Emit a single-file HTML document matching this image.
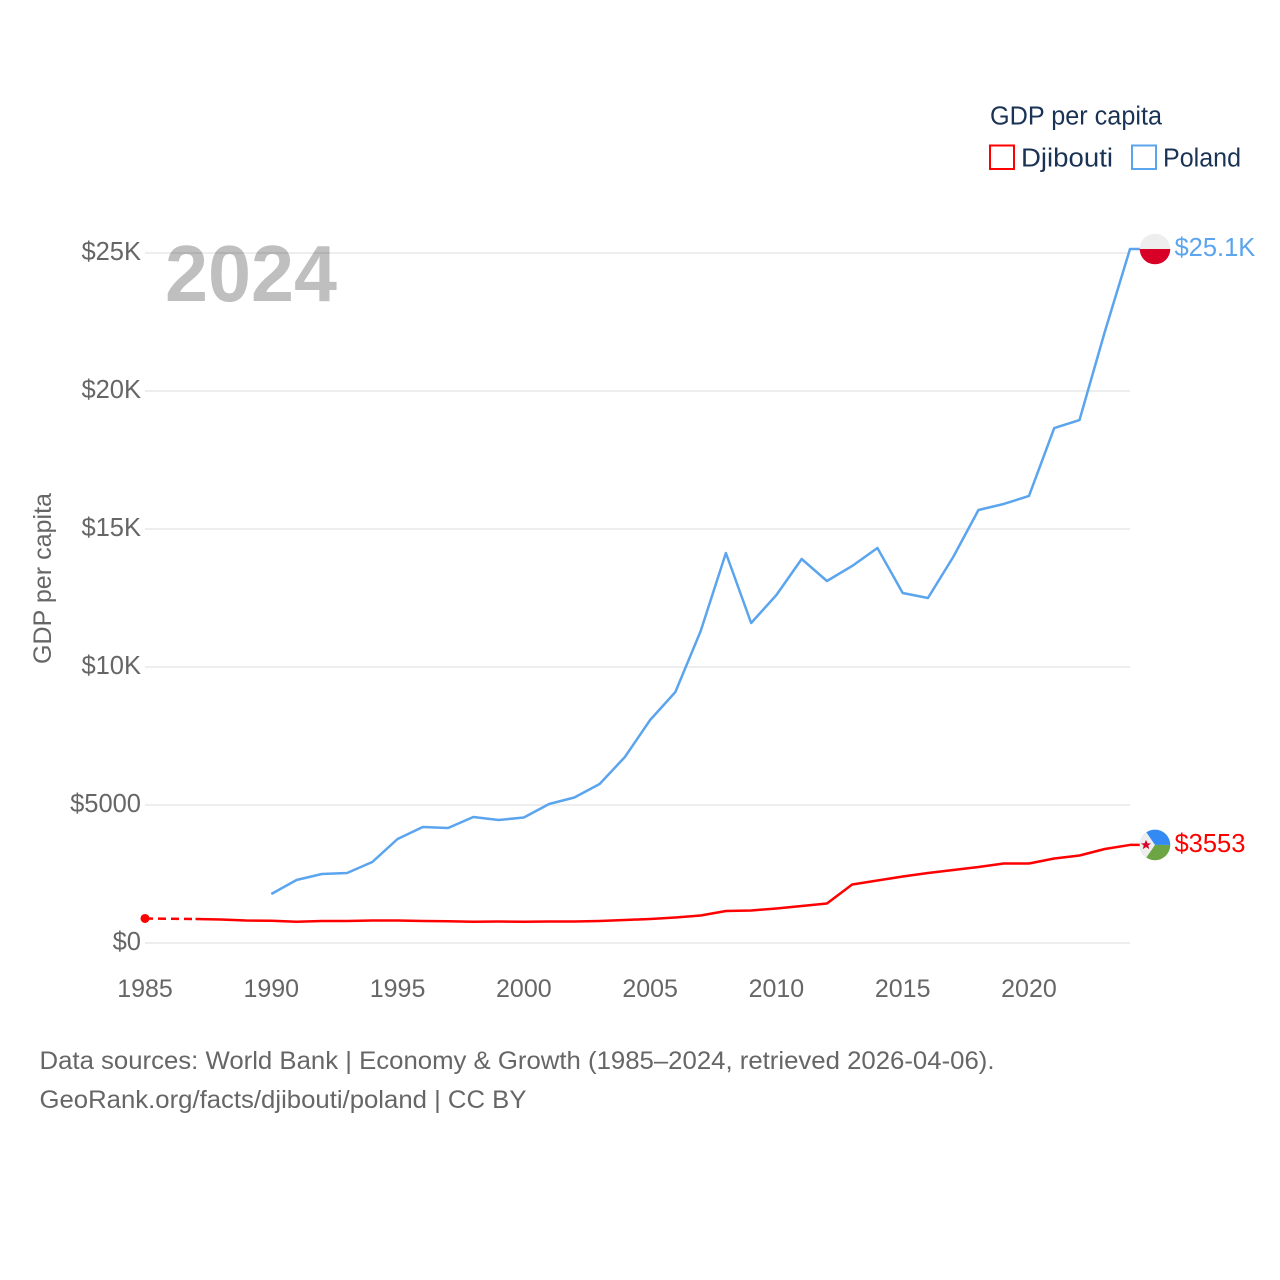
<!DOCTYPE html>
<html lang="en">
<head>
<meta charset="utf-8">
<title>GDP per capita: Djibouti and Poland</title>
<style>
html,body{margin:0;padding:0;background:#fff;width:1280px;height:1280px;overflow:hidden}
svg{display:block;font-family:"Liberation Sans",sans-serif}
</style>
</head>
<body>
<svg id="chart" width="1280" height="1280" viewBox="0 0 1280 1280" xmlns="http://www.w3.org/2000/svg">
  <defs>
    <clipPath id="flag-clip"><circle cx="0" cy="0" r="15.3"></circle></clipPath>
  </defs>
  <g id="grid"></g>
  <g id="yticks"></g>
  <g id="xticks"></g>
  <text transform="translate(51,578.5) rotate(-90)" text-anchor="middle" font-size="25" fill="#666" textLength="171" lengthAdjust="spacingAndGlyphs">GDP per capita</text>
  <text x="165" y="301" font-size="80" font-weight="700" fill="#000" fill-opacity="0.25" textLength="172" lengthAdjust="spacingAndGlyphs">2024</text>
  <g id="series"></g>
  <g>
    <text x="990" y="124.5" font-size="25.5" fill="#1a3355" textLength="172" lengthAdjust="spacingAndGlyphs">GDP per capita</text>
    <rect x="990" y="145.5" width="24" height="23.5" fill="#fff" stroke="#ff0000" stroke-width="2"></rect>
    <text x="1021" y="166.5" font-size="25.5" fill="#1a3355" textLength="92" lengthAdjust="spacingAndGlyphs">Djibouti</text>
    <rect x="1132" y="145.5" width="24" height="23.5" fill="#fff" stroke="#5ba4ee" stroke-width="2"></rect>
    <text x="1163" y="166.5" font-size="25.5" fill="#1a3355" textLength="78" lengthAdjust="spacingAndGlyphs">Poland</text>
  </g>
  <g>
    <text x="39.5" y="1069" font-size="25" fill="#666" textLength="955" lengthAdjust="spacingAndGlyphs">Data sources: World Bank | Economy &amp; Growth (1985–2024, retrieved 2026-04-06).</text>
    <text x="39.5" y="1108" font-size="25" fill="#666" textLength="487" lengthAdjust="spacingAndGlyphs">GeoRank.org/facts/djibouti/poland | CC BY</text>
  </g>
  <g id="flag-poland">
    <g clip-path="url(#flag-clip)">
      <rect x="-16" y="-16" width="32" height="16" fill="#eeeeee"></rect>
      <rect x="-16" y="0" width="32" height="16" fill="#d80027"></rect>
    </g>
  </g>
  <g id="flag-djibouti">
    <g clip-path="url(#flag-clip)">
      <rect x="-16" y="-16" width="32" height="16" fill="#338af3"></rect>
      <rect x="-16" y="0" width="32" height="16" fill="#6da544"></rect>
      <polygon points="-16,-16 -11,-16 0,0 -11,16 -16,16" fill="#eeeeee"></polygon>
      <polygon points="-9,-5 -7.5,-1.6 -4,-1.6 -6.8,0.6 -5.7,4.2 -9,2.1 -12.3,4.2 -11.2,0.6 -14,-1.6 -10.5,-1.6" fill="#d80027"></polygon>
    </g>
  </g>
  <g id="end-labels"></g>
</svg>
<script>
const years = [1985,1986,1987,1988,1989,1990,1991,1992,1993,1994,1995,1996,1997,1998,1999,2000,2001,2002,2003,2004,2005,2006,2007,2008,2009,2010,2011,2012,2013,2014,2015,2016,2017,2018,2019,2020,2021,2022,2023,2024];
const djibouti = [888,null,870,850,815,808,772,797,797,815,815,797,790,772,779,772,779,779,797,833,870,924,996,1159,1178,1250,1340,1431,2120,2264,2409,2536,2645,2754,2880,2880,3062,3170,3406,3553];
const poland = [null,null,null,null,null,1775,2283,2500,2536,2935,3768,4203,4167,4565,4457,4547,5036,5272,5761,6739,8080,9094,11300,14130,11594,12609,13913,13116,13660,14312,12681,12500,13985,15688,15906,16196,18659,18949,22138,25145];
const yTickValues = [0,5000,10000,15000,20000,25000];
const yTickLabels = ["$0","$5000","$10K","$15K","$20K","$25K"];
const xTickValues = [1985,1990,1995,2000,2005,2010,2015,2020];
const NS = "http://www.w3.org/2000/svg";
const xScale = function (year) { return 145 + (year - 1985) * (985 / 39); };
const yScale = function (value) { return 943 - value * 0.0276; };
const make = function (tag, parent) {
  const el = document.createElementNS(NS, tag);
  parent.appendChild(el);
  return el;
};
const gridGroup = document.getElementById("grid");
const yGroup = document.getElementById("yticks");
yTickValues.forEach(function (value, i) {
  const line = make("line", gridGroup);
  
  
  line.setAttribute("x1", 145);
  line.setAttribute("x2", 1130);
  line.setAttribute("y1", yScale(value));
  line.setAttribute("y2", yScale(value));
  line.setAttribute("stroke", "#eeeeee");
  line.setAttribute("stroke-width", 2);
  const label = make("text", yGroup);
  
  
  label.setAttribute("x", 141);
  label.setAttribute("y", yScale(value) + 7);
  label.setAttribute("text-anchor", "end");
  label.setAttribute("font-size", 25.5);
  label.setAttribute("fill", "#666");
  label.textContent = yTickLabels[i];
});
const xGroup = document.getElementById("xticks");
xTickValues.forEach(function (year) {
  const label = make("text", xGroup);
  
  
  label.setAttribute("x", xScale(year));
  label.setAttribute("y", 997);
  label.setAttribute("text-anchor", "middle");
  label.setAttribute("font-size", 25);
  label.setAttribute("fill", "#666");
  label.textContent = year;
});
const seriesGroup = document.getElementById("series");
const drawSeries = function (values, color) {
  const known = [];
  values.forEach(function (value, i) {
    if (value !== null) { known.push({ x: xScale(years[i]), y: yScale(value), year: years[i] }); }
  });
  let solid = "";
  let dashed = "";
  known.forEach(function (p, i) {
    if (i === 0) { solid += "M" + p.x + " " + p.y; return; }
    const prev = known[i - 1];
    if (p.year - prev.year > 1) {
      dashed += "M" + prev.x + " " + prev.y + "L" + p.x + " " + p.y;
      solid += "M" + p.x + " " + p.y;
    } else {
      solid += "L" + p.x + " " + p.y;
    }
  });
  const last = known[known.length - 1];
  solid += "L" + (last.x + 10) + " " + last.y;
  const path = make("path", seriesGroup);
  
  
  path.setAttribute("d", solid);
  path.setAttribute("fill", "none");
  path.setAttribute("stroke", color);
  path.setAttribute("stroke-width", 2.5);
  path.setAttribute("stroke-linejoin", "round");
  if (dashed) {
    const dash = make("path", seriesGroup);
    
    
    dash.setAttribute("d", dashed);
    dash.setAttribute("fill", "none");
    dash.setAttribute("stroke", color);
    dash.setAttribute("stroke-width", 2.5);
    dash.setAttribute("stroke-dasharray", "8 5");
  }
  const first = known[0];
  if (known[1].year - first.year > 1) {
    const dot = make("circle", seriesGroup);
    
    
    dot.setAttribute("cx", first.x);
    dot.setAttribute("cy", first.y);
    dot.setAttribute("r", 4.5);
    dot.setAttribute("fill", color);
  }
  return last;
};
const endLabels = document.getElementById("end-labels");
const placeEnd = function (last, flagId, text, color) {
  document.getElementById(flagId).setAttribute("transform", "translate(1155," + last.y + ")");
  const label = make("text", endLabels);
  
  
  label.setAttribute("x", 1174.5);
  label.setAttribute("y", last.y + 7);
  label.setAttribute("font-size", 25.5);
  label.setAttribute("fill", color);
  label.textContent = text;
};
const formatEnd = function (value) {
  return value >= 10000 ? "$" + (value / 1000).toFixed(1) + "K" : "$" + value;
};
const lastDjibouti = drawSeries(djibouti, "#ff0000");
const lastPoland = drawSeries(poland, "#5ba4ee");
placeEnd(lastPoland, "flag-poland", formatEnd(poland[poland.length - 1]), "#5ba4ee");
placeEnd(lastDjibouti, "flag-djibouti", formatEnd(djibouti[djibouti.length - 1]), "#ff0000");
</script>
</body>
</html>
